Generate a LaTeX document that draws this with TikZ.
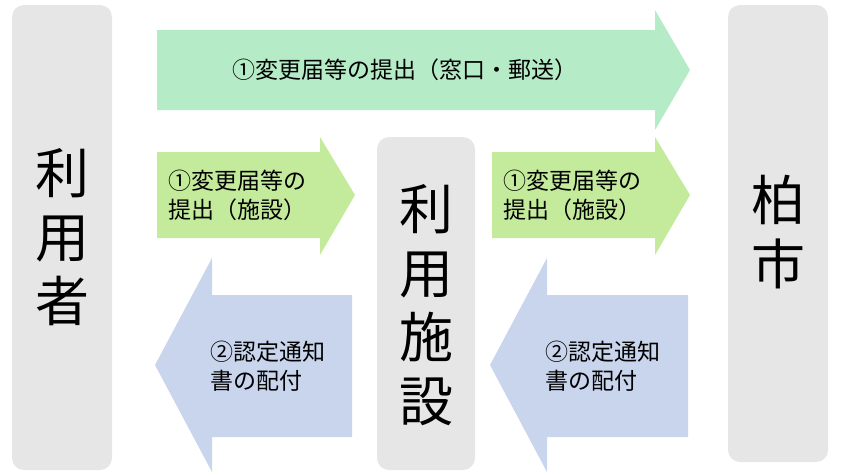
\documentclass[tikz,border=0pt]{standalone}
\usepackage{fontspec}
\setmainfont{Noto Sans CJK JP}
\definecolor{boxg}{HTML}{E6E6E6}
\definecolor{topg}{HTML}{B5EBC6}
\definecolor{midg}{HTML}{C4EB9C}
\definecolor{blu}{HTML}{C9D5EC}
\begin{document}
\begin{tikzpicture}[x=1pt,y=-1pt,
  col/.style={fill=boxg,rounded corners=12pt,draw=none},
  big/.style={font=\fontsize{54}{64}\selectfont,align=center},
  lab/.style={font=\fontsize{23}{29}\selectfont,align=left,anchor=west,inner sep=0pt}]
\useasboundingbox (0,0) rectangle (853,475);
\fill[col] (12,5) rectangle (112,470);
\fill[col] (728,5) rectangle (828,462);
\fill[col] (377,137) rectangle (475,470);
\node[big] (user) at (62,237) {利\\用\\者};
\node[big] (city) at (778,232) {柏\\市};
\node[big] (fac) at (426,305) {利\\用\\施\\設};
% top arrow
\fill[topg] (157,30) -- (655,30) -- (655,10) -- (690,70) -- (655,130) -- (655,110) -- (157,110) -- cycle;
\node[font=\fontsize{23}{29}\selectfont] (t1) at (405,70) {①変更届等の提出（窓口・郵送）};
% green arrows
\fill[midg] (157,152) -- (320,152) -- (320,137) -- (355,195) -- (320,255) -- (320,238) -- (157,238) -- cycle;
\fill[midg] (492,152) -- (655,152) -- (655,137) -- (690,195) -- (655,255) -- (655,238) -- (492,238) -- cycle;
\node[lab] (g1) at (168,195) {①変更届等の\\提出（施設）};
\node[lab] (g2) at (503,195) {①変更届等の\\提出（施設）};
% blue arrows
\fill[blu] (155,365) -- (212,258) -- (212,295) -- (352,295) -- (352,437) -- (212,437) -- (212,472) -- cycle;
\fill[blu] (490,365) -- (547,258) -- (547,295) -- (688,295) -- (688,437) -- (547,437) -- (547,472) -- cycle;
\node[lab] (b1) at (210,366) {②認定通知\\書の配付};
\node[lab] (b2) at (545,366) {②認定通知\\書の配付};
\end{tikzpicture}
\end{document}
